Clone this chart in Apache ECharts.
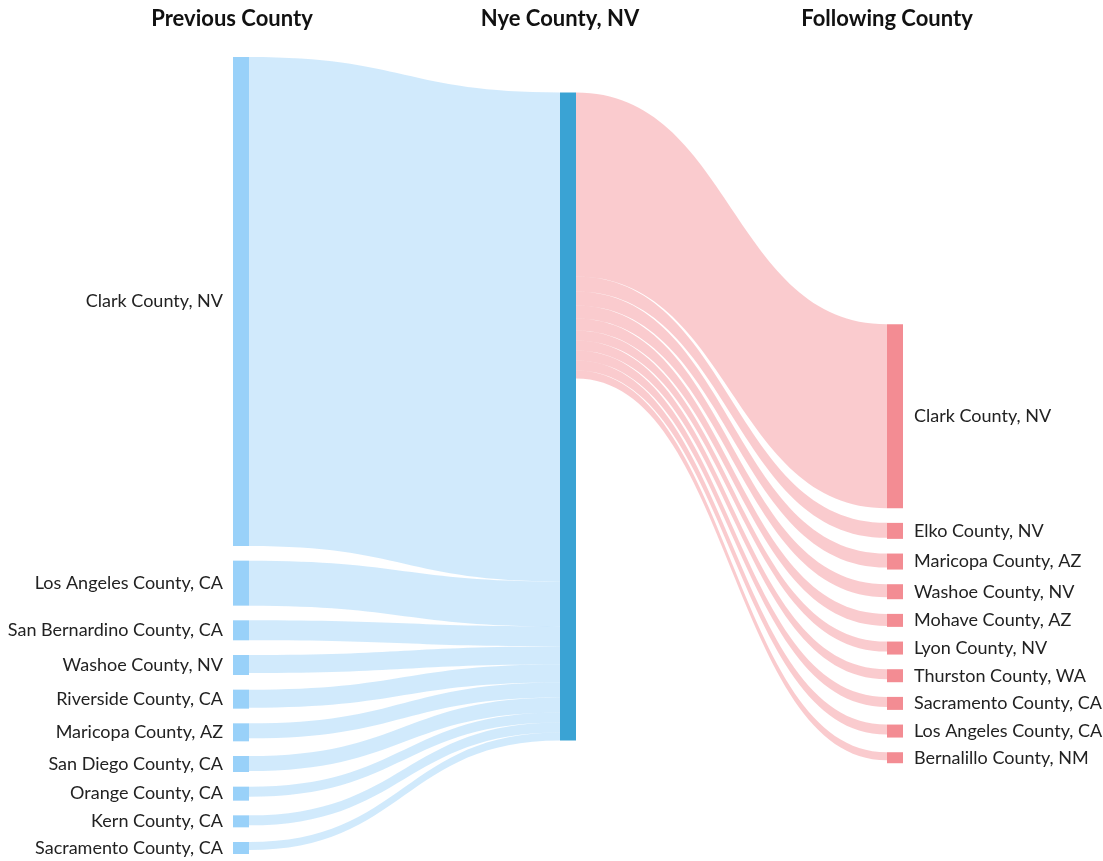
<!DOCTYPE html>
<html>
<head>
<meta charset="utf-8">
<script src="https://cdn.jsdelivr.net/npm/echarts@6/dist/echarts.min.js"></script>
<style>
html,body{margin:0;padding:0;background:#fff;}
#chart{width:1103px;height:861px;}
</style>
</head>
<body>
<div id="chart"></div>
<script>
// Column titles
var columnTitles = ['Previous County', 'Nye County, NV', 'Following County'];
var centerName = 'Nye County, NV';

// Previous counties (left column)
var prevNames = ['Clark County, NV', 'Los Angeles County, CA', 'San Bernardino County, CA', 'Washoe County, NV',
  'Riverside County, CA', 'Maricopa County, AZ', 'San Diego County, CA', 'Orange County, CA', 'Kern County, CA',
  'Sacramento County, CA'];
var prevNodeValues = [489, 45, 20, 20, 19, 18, 16, 14, 12, 12];
var prevFlowValues = [489, 45, 20, 18, 18, 15, 15, 10, 10, 8];

// Following counties (right column)
var nextNames = ['Clark County, NV', 'Elko County, NV', 'Maricopa County, AZ', 'Washoe County, NV',
  'Mohave County, AZ', 'Lyon County, NV', 'Thurston County, WA', 'Sacramento County, CA',
  'Los Angeles County, CA', 'Bernalillo County, NM'];
var nextNodeValues = [183, 16, 16, 15, 13, 13, 13, 13, 13, 11];
var nextFlowValues = [184, 15, 14, 13, 12, 10, 10, 10, 10, 8];

var leftColor = '#99d1f9', midColor = '#3aa3d4', rightColor = '#f38c93';

var nodes = [];
var links = [];
prevNames.forEach(function (n, i) {
  nodes.push({ name: 'prev|' + n, value: prevNodeValues[i], depth: 0 });
  links.push({ source: 'prev|' + n, target: 'mid|' + centerName, value: prevFlowValues[i] });
});
nodes.push({ name: 'mid|' + centerName, depth: 1 });
nextNames.forEach(function (n, i) {
  nodes.push({ name: 'next|' + n, value: nextNodeValues[i], depth: 2 });
  links.push({ source: 'mid|' + centerName, target: 'next|' + n, value: nextFlowValues[i] });
});

var chart = echarts.init(document.getElementById('chart'), null, { renderer: 'canvas' });
var titleXs = [232, 560, 887];
chart.setOption({
  animation: false,
  backgroundColor: '#ffffff',
  title: columnTitles.map(function (t, i) {
    return {
      text: t, left: titleXs[i], top: 8, textAlign: 'center', padding: 0,
      textStyle: { fontFamily: 'Lato', fontWeight: 'bold', fontSize: 22, color: '#111111' }
    };
  }),
  series: [{
    type: 'sankey',
    left: 233, right: 200, top: 57, bottom: 7,
    nodeWidth: 16,
    nodeGap: 14.67,
    nodeAlign: 'justify',
    draggable: false,
    emphasis: { disabled: true },
    data: nodes,
    links: links,
    label: {
      fontFamily: 'Lato', fontSize: 18, color: '#222222',
      formatter: function (p) { return p.name.split('|')[1]; }
    },
    levels: [
      { depth: 0, itemStyle: { color: leftColor, borderWidth: 0 },
        lineStyle: { color: leftColor, opacity: 0.45, curveness: 0.5 },
        label: { position: 'left', distance: 10 } },
      { depth: 1, itemStyle: { color: midColor, borderWidth: 0 },
        lineStyle: { color: rightColor, opacity: 0.45, curveness: 0.5 },
        label: { show: false } },
      { depth: 2, itemStyle: { color: rightColor, borderWidth: 0 },
        label: { position: 'right', distance: 11 } }
    ]
  }]
});
</script>
</body>
</html>
